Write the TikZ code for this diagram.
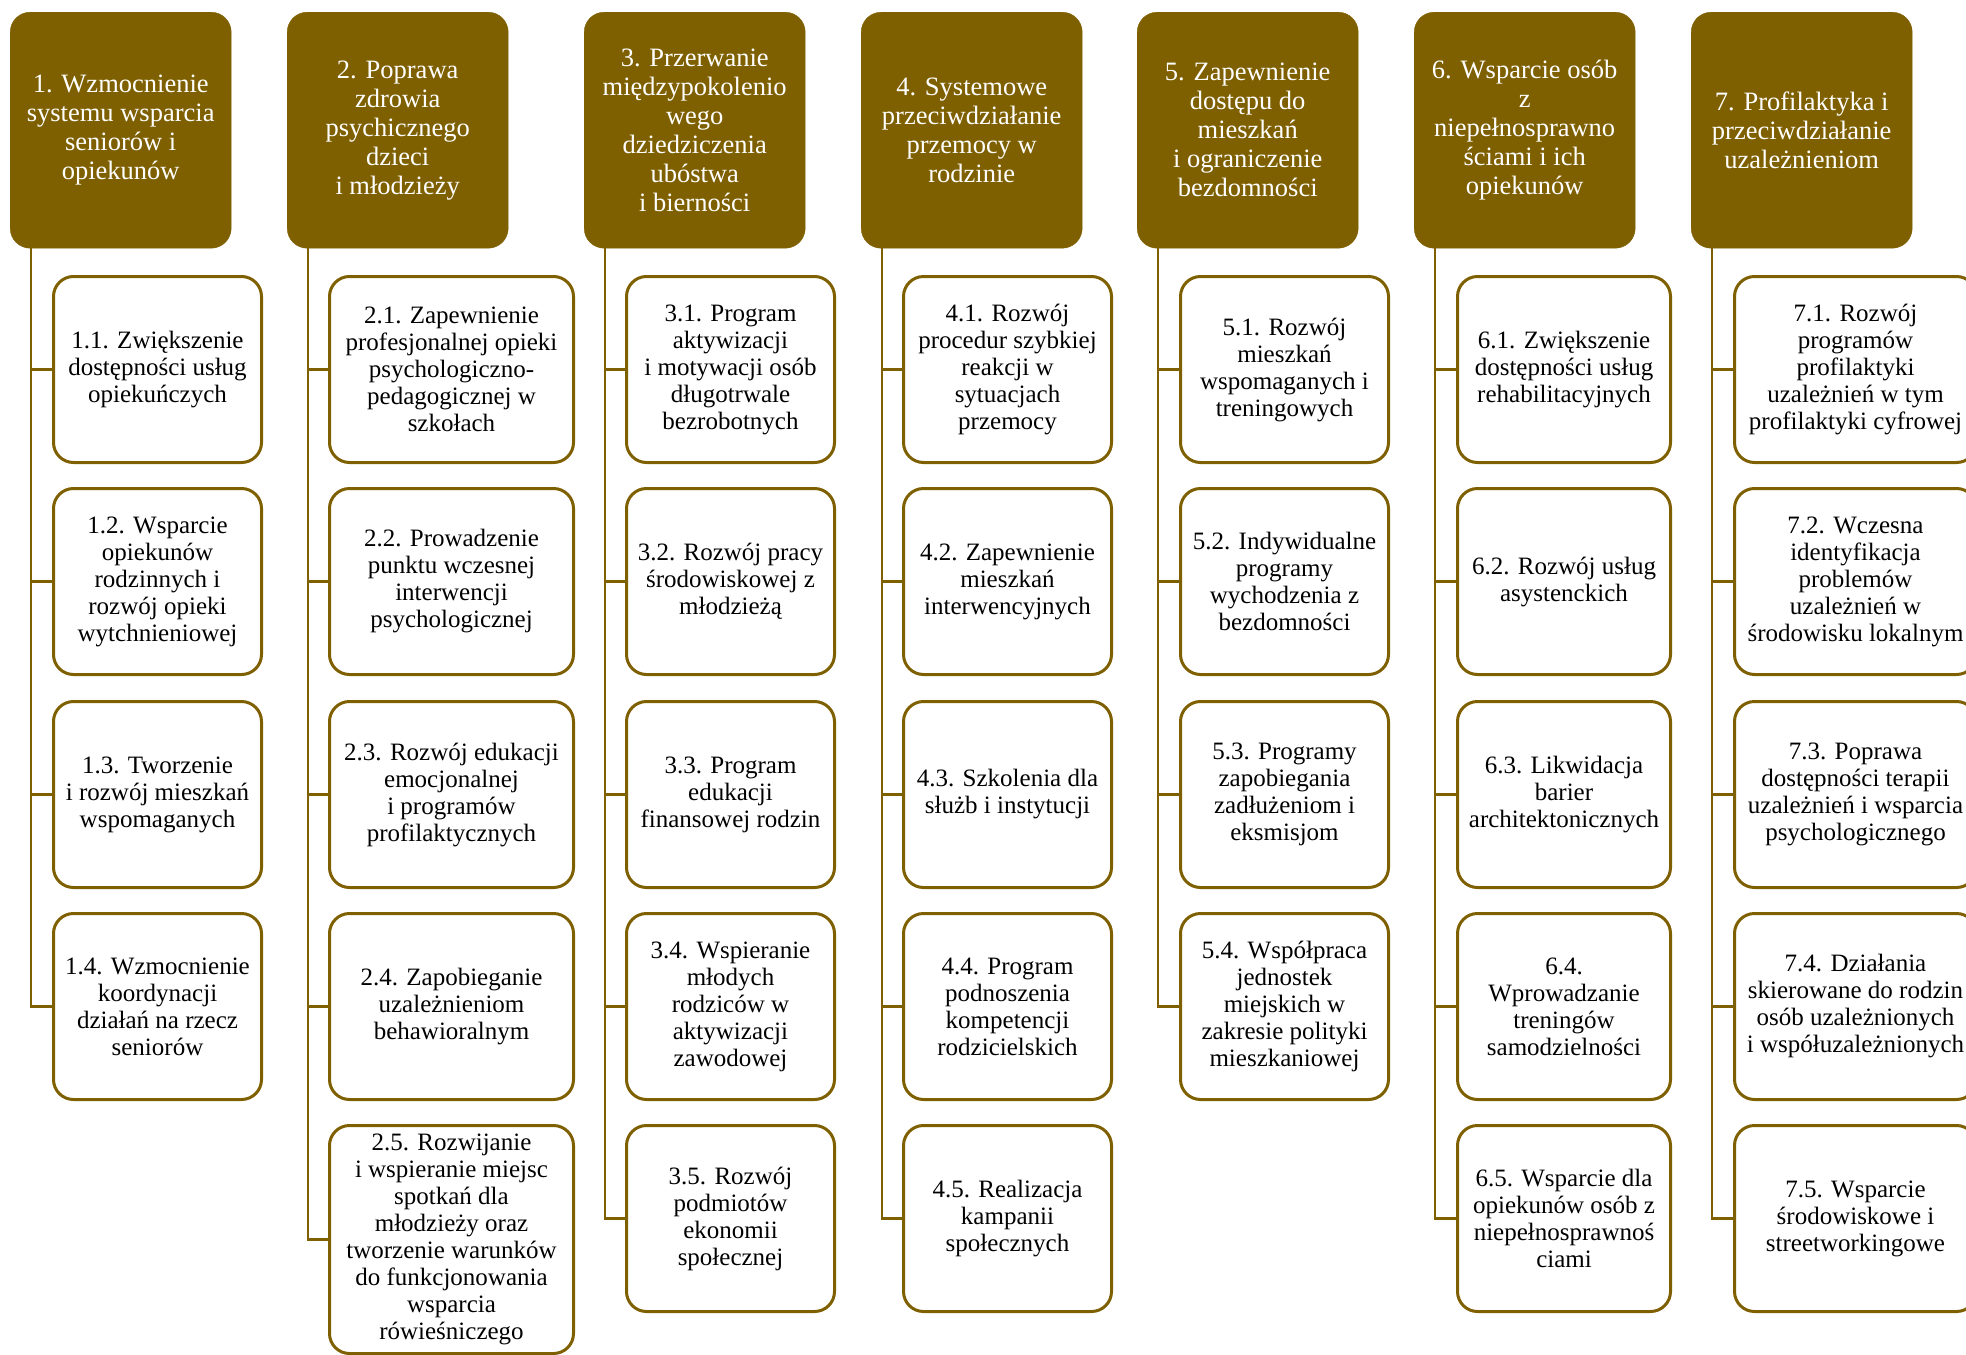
\documentclass[tikz,border=0pt]{standalone}
\usepackage{fontspec}
\setmainfont{Liberation Serif}
\definecolor{gold}{RGB}{127,96,0}
\tikzset{
  hdr/.style={fill=gold, draw=gold, rounded corners=20pt, minimum width=221pt, minimum height=236pt,
    anchor=north west, inner sep=0pt, text=white, align=center, font=\fontsize{26.5}{29}\selectfont},
  sub/.style={draw=gold, line width=3pt, fill=white, rounded corners=20pt, minimum height=186pt,
    anchor=north west, inner sep=0pt, align=center, font=\fontsize{25}{27}\selectfont},
  link/.style={draw=gold, line width=2.5pt},
}
\begin{document}
\begin{tikzpicture}[x=1pt,y=-1pt]
\useasboundingbox (0,0) rectangle (1966,1355);
\clip (0,0) rectangle (1966,1355);
\fill[white] (0,0) rectangle (1966,1355);
% headers
\node[hdr] (h1) at (10,12) {1. Wzmocnienie\\systemu wsparcia\\seniorów i\\opiekunów};
\node[hdr] (h2) at (287,12) {2. Poprawa\\zdrowia\\psychicznego\\dzieci\\i młodzieży};
\node[hdr] (h3) at (584,12) {3. Przerwanie\\międzypokolenio\\wego\\dziedziczenia\\ubóstwa\\i bierności};
\node[hdr] (h4) at (861,12) {4. Systemowe\\przeciwdziałanie\\przemocy w\\rodzinie};
\node[hdr] (h5) at (1137,12) {5. Zapewnienie\\dostępu do\\mieszkań\\i ograniczenie\\bezdomności};
\node[hdr] (h6) at (1414,12) {6. Wsparcie osób\\z\\niepełnosprawno\\ściami i ich\\opiekunów};
\node[hdr] (h7) at (1691,12) {7. Profilaktyka i\\przeciwdziałanie\\uzależnieniom};
\begin{scope}[shift={(-2,-1)}]
% column 1
\node[sub, minimum width=208pt] (b11) at (54,276) {1.1. Zwiększenie\\dostępności usług\\opiekuńczych};
\node[sub, minimum width=208pt] (b12) at (54,488) {1.2. Wsparcie\\opiekunów\\rodzinnych i\\rozwój opieki\\wytchnieniowej};
\node[sub, minimum width=208pt] (b13) at (54,701) {1.3. Tworzenie\\i rozwój mieszkań\\wspomaganych};
\node[sub, minimum width=208pt] (b14) at (54,913) {1.4. Wzmocnienie\\koordynacji\\działań na rzecz\\seniorów};
% column 2
\node[sub, minimum width=244pt] (b21) at (330,276) {2.1. Zapewnienie\\profesjonalnej opieki\\psychologiczno-\\pedagogicznej w\\szkołach};
\node[sub, minimum width=244pt] (b22) at (330,488) {2.2. Prowadzenie\\punktu wczesnej\\interwencji\\psychologicznej};
\node[sub, minimum width=244pt] (b23) at (330,701) {2.3. Rozwój edukacji\\emocjonalnej\\i programów\\profilaktycznych};
\node[sub, minimum width=244pt] (b24) at (330,913) {2.4. Zapobieganie\\uzależnieniom\\behawioralnym};
\node[sub, minimum width=244pt, minimum height=228pt] (b25) at (330,1125) {2.5. Rozwijanie\\i wspieranie miejsc\\spotkań dla\\młodzieży oraz\\tworzenie warunków\\do funkcjonowania\\wsparcia\\rówieśniczego};
% column 3
\node[sub, minimum width=208pt] (b31) at (627,276) {3.1. Program\\aktywizacji\\i motywacji osób\\długotrwale\\bezrobotnych};
\node[sub, minimum width=208pt] (b32) at (627,488) {3.2. Rozwój pracy\\środowiskowej z\\młodzieżą};
\node[sub, minimum width=208pt] (b33) at (627,701) {3.3. Program\\edukacji\\finansowej rodzin};
\node[sub, minimum width=208pt] (b34) at (627,913) {3.4. Wspieranie\\młodych\\rodziców w\\aktywizacji\\zawodowej};
\node[sub, minimum width=208pt] (b35) at (627,1125) {3.5. Rozwój\\podmiotów\\ekonomii\\społecznej};
% column 4
\node[sub, minimum width=208pt] (b41) at (904,276) {4.1. Rozwój\\procedur szybkiej\\reakcji w\\sytuacjach\\przemocy};
\node[sub, minimum width=208pt] (b42) at (904,488) {4.2. Zapewnienie\\mieszkań\\interwencyjnych};
\node[sub, minimum width=208pt] (b43) at (904,701) {4.3. Szkolenia dla\\służb i instytucji};
\node[sub, minimum width=208pt] (b44) at (904,913) {4.4. Program\\podnoszenia\\kompetencji\\rodzicielskich};
\node[sub, minimum width=208pt] (b45) at (904,1125) {4.5. Realizacja\\kampanii\\społecznych};
% column 5
\node[sub, minimum width=208pt] (b51) at (1181,276) {5.1. Rozwój\\mieszkań\\wspomaganych i\\treningowych};
\node[sub, minimum width=208pt] (b52) at (1181,488) {5.2. Indywidualne\\programy\\wychodzenia z\\bezdomności};
\node[sub, minimum width=208pt] (b53) at (1181,701) {5.3. Programy\\zapobiegania\\zadłużeniom i\\eksmisjom};
\node[sub, minimum width=208pt] (b54) at (1181,913) {5.4. Współpraca\\jednostek\\miejskich w\\zakresie polityki\\mieszkaniowej};
% column 6
\node[sub, minimum width=213pt] (b61) at (1458,276) {6.1. Zwiększenie\\dostępności usług\\rehabilitacyjnych};
\node[sub, minimum width=213pt] (b62) at (1458,488) {6.2. Rozwój usług\\asystenckich};
\node[sub, minimum width=213pt] (b63) at (1458,701) {6.3. Likwidacja\\barier\\architektonicznych};
\node[sub, minimum width=213pt] (b64) at (1458,913) {6.4.\\Wprowadzanie\\treningów\\samodzielności};
\node[sub, minimum width=213pt] (b65) at (1458,1125) {6.5. Wsparcie dla\\opiekunów osób z\\niepełnosprawnoś\\ciami};
% column 7
\node[sub, minimum width=242pt] (b71) at (1735,276) {7.1. Rozwój\\programów\\profilaktyki\\uzależnień w tym\\profilaktyki cyfrowej};
\node[sub, minimum width=242pt] (b72) at (1735,488) {7.2. Wczesna\\identyfikacja\\problemów\\uzależnień w\\środowisku lokalnym};
\node[sub, minimum width=242pt] (b73) at (1735,701) {7.3. Poprawa\\dostępności terapii\\uzależnień i wsparcia\\psychologicznego};
\node[sub, minimum width=242pt] (b74) at (1735,913) {7.4. Działania\\skierowane do rodzin\\osób uzależnionych\\i współuzależnionych};
\node[sub, minimum width=242pt] (b75) at (1735,1125) {7.5. Wsparcie\\środowiskowe i\\streetworkingowe};
\end{scope}
% connectors
\foreach \c/\n in {1/4,2/5,3/5,4/5,5/4,6/5,7/5}{
  \foreach \r in {1,...,\n}{
    \draw[link] ([xshift=21pt]h\c.south west) |- (b\c\r.west);
  }
}
\end{tikzpicture}
\end{document}
